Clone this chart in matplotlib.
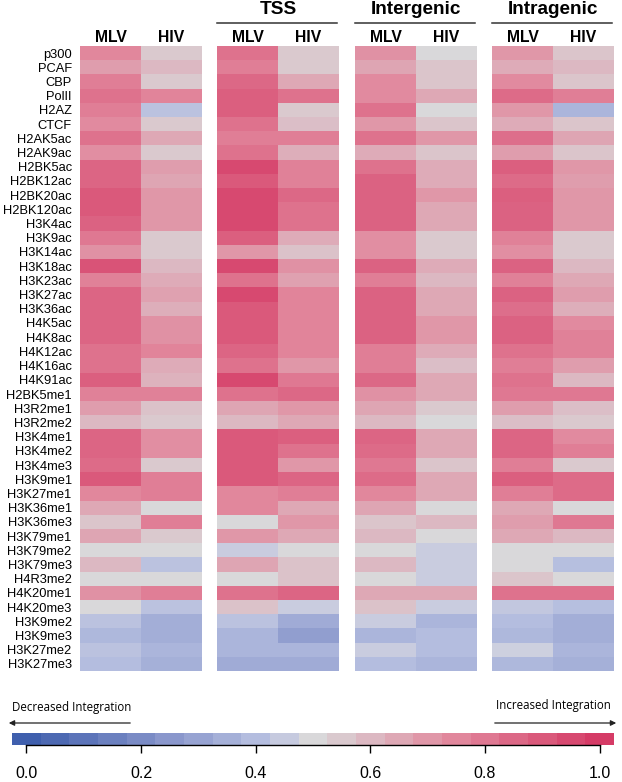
import matplotlib.pyplot as plt
import numpy as np
from matplotlib.colors import LinearSegmentedColormap

plt.rcParams['font.family'] = ['Liberation Sans', 'DejaVu Sans']

marks = ["p300", "PCAF", "CBP", "PolII", "H2AZ", "CTCF", "H2AK5ac", "H2AK9ac",
         "H2BK5ac", "H2BK12ac", "H2BK20ac", "H2BK120ac", "H3K4ac", "H3K9ac",
         "H3K14ac", "H3K18ac", "H3K23ac", "H3K27ac", "H3K36ac", "H4K5ac",
         "H4K8ac", "H4K12ac", "H4K16ac", "H4K91ac", "H2BK5me1", "H3R2me1",
         "H3R2me2", "H3K4me1", "H3K4me2", "H3K4me3", "H3K9me1", "H3K27me1",
         "H3K36me1", "H3K36me3", "H3K79me1", "H3K79me2", "H3K79me3", "H4R3me2",
         "H4K20me1", "H4K20me3", "H3K9me2", "H3K9me3", "H3K27me2", "H3K27me3"]
viruses = ["MLV", "HIV"]
regions = ["", "TSS", "Intergenic", "Intragenic"]

# whole genome
mlv_genome = [.75, .68, .78, .82, .78, .74, .82, .73, .86, .86, .90, .90, .87, .80, .72,
              .92, .77, .86, .86, .86, .86, .82, .82, .88, .77, .68, .60, .86, .86, .84,
              .90, .75, .65, .56, .66, .50, .60, .50, .72, .50, .42, .38, .42, .40]
hiv_genome = [.55, .60, .55, .76, .42, .55, .65, .55, .68, .66, .70, .70, .70, .55, .55,
              .60, .64, .67, .63, .72, .72, .76, .64, .62, .77, .57, .55, .73, .73, .55,
              .78, .78, .50, .78, .55, .50, .42, .50, .78, .42, .34, .34, .37, .35]
# TSS
mlv_tss = [.82, .78, .85, .88, .88, .82, .78, .82, .95, .90, .95, .95, .95, .88, .70,
           .95, .82, .95, .90, .90, .90, .86, .82, .95, .82, .66, .60, .90, .90, .90,
           .90, .75, .75, .50, .70, .46, .66, .50, .82, .57, .42, .37, .37, .33]
hiv_tss = [.55, .55, .65, .82, .55, .58, .78, .63, .77, .77, .85, .82, .82, .64, .57,
           .72, .67, .76, .76, .76, .76, .76, .70, .80, .85, .70, .65, .88, .82, .70,
           .86, .78, .65, .70, .65, .50, .57, .57, .86, .46, .33, .28, .37, .33]
# intergenic
mlv_intergenic = [.72, .66, .74, .74, .82, .70, .82, .64, .82, .87, .87, .87, .87, .73, .73,
                  .87, .78, .87, .87, .87, .87, .78, .78, .85, .72, .66, .60, .86, .84, .80,
                  .84, .75, .66, .56, .60, .50, .60, .50, .65, .57, .46, .37, .46, .40]
hiv_intergenic = [.50, .56, .56, .65, .50, .56, .70, .56, .64, .64, .70, .65, .65, .55, .55,
                  .64, .60, .65, .65, .70, .70, .64, .58, .65, .65, .55, .50, .65, .65, .56,
                  .65, .65, .50, .60, .50, .46, .46, .46, .65, .46, .37, .40, .40, .37]
# intragenic
mlv_intragenic = [.70, .64, .74, .84, .70, .64, .83, .68, .88, .84, .88, .87, .87, .77, .73,
                  .87, .77, .87, .83, .87, .87, .82, .78, .82, .80, .68, .58, .86, .86, .78,
                  .88, .78, .65, .68, .65, .50, .50, .56, .82, .44, .40, .38, .47, .38]
hiv_intragenic = [.56, .60, .56, .78, .37, .56, .66, .56, .70, .68, .70, .70, .70, .55, .55,
                  .60, .65, .68, .63, .74, .77, .77, .68, .60, .80, .58, .55, .74, .78, .55,
                  .84, .84, .50, .80, .60, .50, .41, .50, .82, .41, .34, .34, .37, .35]

panels = [(mlv_genome, hiv_genome), (mlv_tss, hiv_tss),
          (mlv_intergenic, hiv_intergenic), (mlv_intragenic, hiv_intragenic)]

cbar_ticks = [0.0, 0.2, 0.4, 0.6, 0.8, 1.0]
cbar_steps = [0.0, 0.05, 0.1, 0.15, 0.2, 0.25, 0.3, 0.35, 0.4, 0.45, 0.5,
              0.55, 0.6, 0.65, 0.7, 0.75, 0.8, 0.85, 0.9, 0.95, 1.0]

cmap = LinearSegmentedColormap.from_list(
    "integ", [(0, "#3f5fad"), (0.25, "#8a97cc"), (0.4, "#b4bddf"),
              (0.47, "#cdd0e0"), (0.5, "#d9d9db"), (0.75, "#e2889d"),
              (1, "#d53b66")])

W, H = 622, 782
fig = plt.figure(figsize=(W / 100, H / 100), dpi=100)

lefts = [80, 217, 355, 492]
top, bottom, pw = 46, 671, 122
for i, (mlv, hiv) in enumerate(panels):
    ax = fig.add_axes([lefts[i] / W, 1 - bottom / H, pw / W, (bottom - top) / H])
    data = np.column_stack([mlv, hiv])
    ax.imshow(data, cmap=cmap, vmin=0, vmax=1, aspect='auto', interpolation='nearest')
    ax.xaxis.tick_top()
    ax.set_xticks([0, 1])
    ax.set_xticklabels(viruses, fontsize=11.3, fontweight='bold')
    ax.tick_params(axis='x', length=0, pad=1)
    if i == 0:
        ax.set_yticks(range(len(marks)))
        ax.set_yticklabels(marks, fontsize=9.3)
        ax.tick_params(axis='y', length=0, pad=6)
    else:
        ax.set_yticks([])
    for s in ax.spines.values():
        s.set_visible(False)
    if regions[i]:
        ax.text(0.5, 1.058, regions[i], transform=ax.transAxes, ha='center',
                va='center', fontsize=13.7, fontweight='bold')
        ax.plot([0, 0.98], [1.037, 1.037], transform=ax.transAxes,
                color='#333333', lw=1.1, clip_on=False)

# colour key
cax = fig.add_axes([12 / W, 1 - 745 / H, 602 / W, 12 / H])
cax.imshow(np.array([cbar_steps]), cmap=cmap, vmin=0, vmax=1, aspect='auto',
           extent=(-0.025, 1.025, 0, 1), interpolation='nearest')
cax.set_xlim(-0.025, 1.025)
cax.set_yticks([])
cax.set_xticks(cbar_ticks)
cax.set_xticklabels([f"{t:.1f}" for t in cbar_ticks], fontsize=11.5)
cax.tick_params(axis='x', length=6, width=1, pad=9)
for s in ['top', 'left', 'right']:
    cax.spines[s].set_visible(False)
cax.spines['bottom'].set_bounds(0, 1)
cax.spines['bottom'].set_linewidth(1)

arrow = dict(arrowstyle='-|>', color='#222222', lw=0.9, mutation_scale=8)
fig.text(12 / W, 1 - 707 / H, "Decreased Integration", ha='left', va='center',
         fontsize=8.3, family='Open Sans')
fig.text(611 / W, 1 - 706 / H, "Increased Integration", ha='right', va='center',
         fontsize=8.3, family='Open Sans')
plt.annotate("", xy=(6, H - 723), xytext=(133, H - 723),
             xycoords='figure pixels', arrowprops=arrow)
plt.annotate("", xy=(619, H - 723), xytext=(492, H - 723),
             xycoords='figure pixels', arrowprops=arrow)

fig.savefig("out.png", dpi=100)
